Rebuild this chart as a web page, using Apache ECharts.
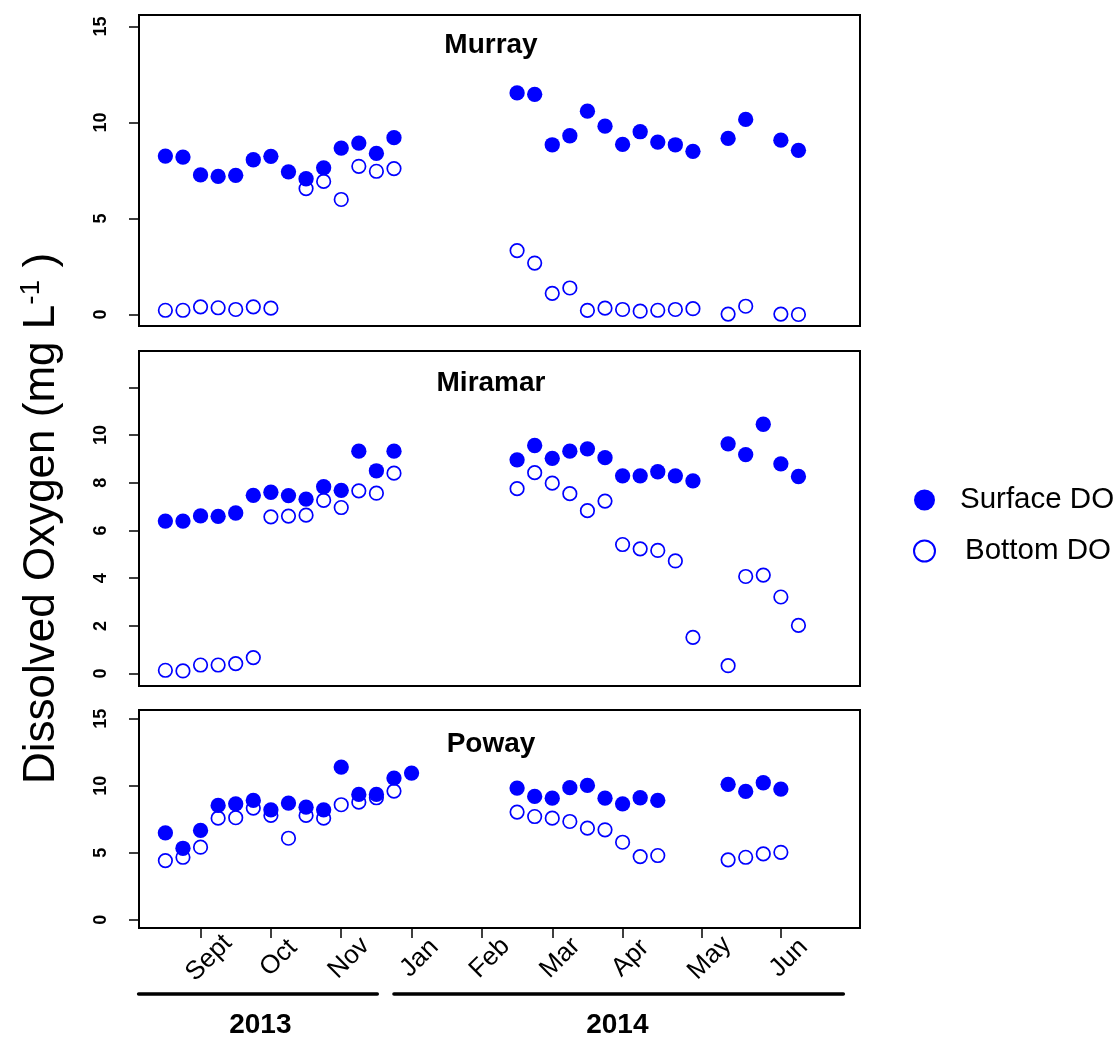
<!DOCTYPE html>
<html><head><meta charset="utf-8">
<script src="https://cdn.jsdelivr.net/npm/echarts@6/dist/echarts.min.js"></script>
<style>html,body{margin:0;padding:0;background:#fff}#c{width:1117px;height:1038px}</style>
</head><body><div id="c"></div>
<script>
// ---------------- DATA ----------------
const sites = ['Murray', 'Miramar', 'Poway'];
const seriesNames = ['Surface DO', 'Bottom DO'];

// sampling week index (weekly sampling, Aug 2013 – Jun 2014)
const weeks2013 = [0,1,2,3,4,5,6,7,8,9,10,11,12,13];
const weeksPoway2013 = [0,1,2,3,4,5,6,7,8,9,10,11,12,13,14];
const weeksMurray2014 = [20,21,22,23,24,25,26,27,28,29,30,32,33,35,36];
const weeksMiramar2014 = [20,21,22,23,24,25,26,27,28,29,30,32,33,34,35,36];
const weeksPoway2014 = [20,21,22,23,24,25,26,27,28,32,33,34,35];

const murraySurface2013 = [8.25,8.20,7.27,7.19,7.25,8.06,8.24,7.43,7.07,7.64,8.67,8.93,8.39,9.21];
const murrayBottom2013  = [0.22,0.22,0.40,0.35,0.26,0.40,0.33,null,6.56,6.93,5.99,7.72,7.46,7.60];
const murraySurface2014 = [11.54,11.47,8.84,9.31,10.59,9.81,8.86,9.52,8.98,8.84,8.50,9.17,10.16,9.08,8.55];
const murrayBottom2014  = [3.33,2.68,1.10,1.38,0.21,0.33,0.26,0.17,0.22,0.26,0.30,0.02,0.43,0.02,0.00];

const miramarSurface2013 = [6.39,6.39,6.61,6.59,6.73,7.47,7.60,7.46,7.31,7.83,7.68,9.32,8.50,9.32];
const miramarBottom2013  = [0.14,0.11,0.36,0.36,0.42,0.67,6.57,6.60,6.64,7.26,6.96,7.66,7.56,8.40];
const miramarSurface2014 = [8.96,9.56,9.02,9.32,9.42,9.05,8.29,8.29,8.46,8.29,8.08,9.63,9.18,10.45,8.79,8.26];
const miramarBottom2014  = [7.75,8.42,7.98,7.54,6.83,7.23,5.41,5.23,5.16,4.72,1.52,0.33,4.07,4.13,3.21,2.02];

const powaySurface2013 = [6.48,5.33,6.66,8.53,8.65,8.90,8.20,8.70,8.40,8.20,11.39,9.35,9.35,10.57,10.94];
const powayBottom2013  = [4.41,4.66,5.41,7.58,7.61,8.33,7.78,6.08,7.78,7.58,8.58,8.77,9.10,9.60,null];
const powaySurface2014 = [9.82,9.20,9.07,9.85,10.02,9.07,8.65,9.10,8.90,10.10,9.57,10.22,9.75];
const powayBottom2014  = [8.03,7.70,7.58,7.33,6.83,6.71,5.78,4.71,4.79,4.47,4.66,4.91,5.03];

const monthTicks  = [2.03,6,10,14,18,22,26,30.5,35];
const monthLabels = ['Sept','Oct','Nov','Jan','Feb','Mar','Apr','May','Jun'];
const yTicks  = [[0,5,10,15],[0,2,4,6,8,10,12],[0,5,10,15]];
const yLabels = [[0,5,10,15],[0,2,4,6,8,10],[0,5,10,15]];
const years = ['2013','2014'];

// ---------------- BUILD ----------------
function pairs(xs, ys){ const out=[]; xs.forEach((x,i)=>{ if(ys[i]!=null) out.push([x,ys[i]]); }); return out; }
const siteData = [
  { x13: weeks2013, x14: weeksMurray2014, s13: murraySurface2013, b13: murrayBottom2013, s14: murraySurface2014, b14: murrayBottom2014 },
  { x13: weeks2013, x14: weeksMiramar2014, s13: miramarSurface2013, b13: miramarBottom2013, s14: miramarSurface2014, b14: miramarBottom2014 },
  { x13: weeksPoway2013, x14: weeksPoway2014, s13: powaySurface2013, b13: powayBottom2013, s14: powaySurface2014, b14: powayBottom2014 }
];

const FONT = '"Liberation Sans", Arial, Helvetica, sans-serif';
const BLUE = '#0000ff';
const LABEL_SHIFT = 0.45;
const grids = [
  {left:139, top:15, width:721, height:311},
  {left:139, top:351, width:721, height:335},
  {left:139, top:710, width:721, height:218}
];
const yRanges = [[-0.6,15.6],[-0.52,13.52],[-0.62,15.65]];

const xAxes = grids.map((g,i)=>{
  const bottom = i===2;
  return {
    type:'value', gridIndex:i, min:-1.5, max:39.5, show: bottom, position:'bottom',
    axisLine:{show:false, onZero:false}, splitLine:{show:false},
    axisTick:{show:bottom, customValues: monthTicks, length:10, lineStyle:{color:'#000', width:1.5}},
    axisLabel:{show:bottom, customValues: monthTicks.map(v=>v+LABEL_SHIFT),
      formatter: v => { let k=0, d=1e9; monthTicks.forEach((t,j)=>{ const dd=Math.abs(t+LABEL_SHIFT-v); if(dd<d){d=dd;k=j;} }); return monthLabels[k]; },
      rotate:45, align:'center', verticalAlign:'middle', margin:30, fontSize:26, color:'#000', fontFamily:FONT}
  };
});
const yAxes = grids.map((g,i)=>{
  const ax = {
    type:'value', gridIndex:i, min:yRanges[i][0], max:yRanges[i][1], position:'left',
    axisLine:{show:false, onZero:false}, splitLine:{show:false},
    axisTick:{show:true, customValues:yTicks[i], length:10, lineStyle:{color:'#000', width:1.5}},
    axisLabel:{customValues:yLabels[i], rotate:90, align:'center', verticalAlign:'middle', margin:38,
      fontSize:18, fontWeight:'bold', color:'#000', fontFamily:FONT}
  };
  if(i===1){
    ax.name = '{a|Dissolved Oxygen (mg L}{s|-1}{a| )}';
    ax.nameLocation = 'middle'; ax.nameRotate = 90; ax.nameGap = 97;
    ax.nameTextStyle = { align:'center', verticalAlign:'middle',
      rich:{ a:{fontSize:44, fontFamily:FONT, color:'#000', lineHeight:50},
             s:{fontSize:28, fontFamily:FONT, color:'#000', verticalAlign:'top'} } };
  }
  return ax;
});

const series = [];
siteData.forEach((d,i)=>{
  series.push({ name: seriesNames[1], type:'scatter', xAxisIndex:i, yAxisIndex:i,
    data: pairs(d.x13,d.b13).concat(pairs(d.x14,d.b14)),
    symbol:'circle', symbolSize:13.5,
    itemStyle:{color:'rgba(0,0,0,0)', borderColor:BLUE, borderWidth:1.7, opacity:1}, z:2 });
  series.push({ name: seriesNames[0], type:'scatter', xAxisIndex:i, yAxisIndex:i,
    data: pairs(d.x13,d.s13).concat(pairs(d.x14,d.s14)),
    symbol:'circle', symbolSize:15.3, itemStyle:{color:BLUE, opacity:1}, z:3 });
});

const chart = echarts.init(document.getElementById('c'));
chart.setOption({
  animation:false,
  backgroundColor:'#fff',
  grid: grids.map(g=>Object.assign({show:true, borderColor:'#000', borderWidth:2, backgroundColor:'transparent'}, g)),
  xAxis: xAxes, yAxis: yAxes, series,
  legend:{ orient:'vertical', left:913, top:485, padding:0, itemWidth:21, itemHeight:21, itemGap:21, selectedMode:false,
    textStyle:{fontSize:29.5, fontFamily:FONT, color:'#000'},
    data:[
      {name:seriesNames[0], icon:'circle', itemStyle:{color:BLUE, borderWidth:0, opacity:1}, textStyle:{padding:[0,0,0,20]}},
      {name:seriesNames[1], icon:'circle', itemStyle:{color:'rgba(0,0,0,0)', borderColor:BLUE, borderWidth:2, opacity:1}, textStyle:{padding:[0,0,0,25]}}
    ]}
});

// annotations: panel titles, year brackets
const titleY = [45, 383, 744];
const px = v => chart.convertToPixel({xAxisIndex:2}, v);
const yearSpans = [[-1.52, 12.05],[13.0, 38.55]];
const yearCenters = [5.4, 25.7];
const graphic = [];
sites.forEach((s,i)=>graphic.push({type:'text', x:491, y:titleY[i], z:10,
  style:{text:s, font:'bold 28px '+FONT, fill:'#000', align:'center', verticalAlign:'middle'}}));
years.forEach((yr,i)=>{
  graphic.push({type:'line', z:10, shape:{x1:px(yearSpans[i][0]), y1:994, x2:px(yearSpans[i][1]), y2:994},
    style:{stroke:'#000', lineWidth:3.6, lineCap:'round'}});
  graphic.push({type:'text', x:px(yearCenters[i]), y:1025, z:10,
    style:{text:yr, font:'bold 28px '+FONT, fill:'#000', align:'center', verticalAlign:'middle'}});
});
chart.setOption({graphic});
</script></body></html>
